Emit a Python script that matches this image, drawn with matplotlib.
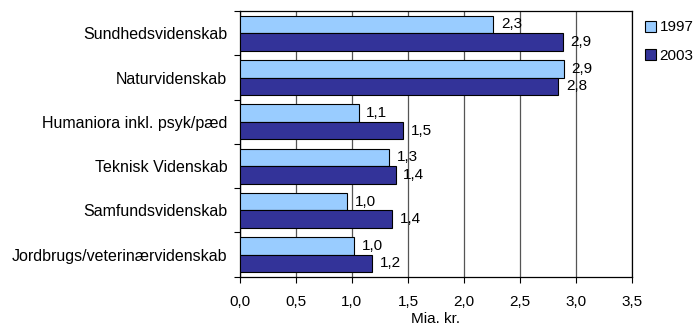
import matplotlib.pyplot as plt
import numpy as np
from matplotlib.patches import Patch

categories = [
    "Sundhedsvidenskab",
    "Naturvidenskab",
    "Humaniora inkl. psyk/pæd",
    "Teknisk Videnskab",
    "Samfundsvidenskab",
    "Jordbrugs/veterinærvidenskab",
]
values_1997 = [2.26, 2.89, 1.06, 1.33, 0.96, 1.02]
values_2003 = [2.88, 2.84, 1.46, 1.39, 1.36, 1.18]
series_labels = ["1997", "2003"]
xticks = [0.0, 0.5, 1.0, 1.5, 2.0, 2.5, 3.0, 3.5]

plt.rcParams["font.family"] = ["Liberation Sans", "DejaVu Sans"]

fig = plt.figure(figsize=(6.97, 3.26), dpi=100)
ax = fig.add_axes([0.344, 0.151, 0.563, 0.815])

y = np.arange(len(categories))
h = 0.395
c97, c03 = "#99CCFF", "#333399"
ax.barh(y - h / 2, values_1997, height=h, color=c97, edgecolor="black", linewidth=0.8, zorder=3)
ax.barh(y + h / 2, values_2003, height=h, color=c03, edgecolor="black", linewidth=0.8, zorder=3)

def fmt(v):
    return f"{v:.1f}".replace(".", ",")

for yi, v in zip(y - h / 2, values_1997):
    ax.annotate(fmt(v), (v, yi), xytext=(5.5, 0), textcoords="offset points",
                va="center", ha="left", fontsize=11, zorder=4)
for yi, v in zip(y + h / 2, values_2003):
    ax.annotate(fmt(v), (v, yi), xytext=(5.5, 0), textcoords="offset points",
                va="center", ha="left", fontsize=11, zorder=4)

ax.set_xlim(0, 3.5)
ax.set_ylim(len(categories) - 0.5, -0.5)
ax.set_xticks(xticks)
ax.set_xticklabels([fmt(t) for t in xticks], fontsize=11)
ax.set_yticks(y)
ax.set_yticklabels(categories, fontsize=11.5)
ax.tick_params(axis="y", length=0, pad=9)
ax.set_yticks(np.arange(len(categories) + 1) - 0.5, minor=True)
ax.tick_params(axis="y", which="minor", length=4, width=0.8)
ax.tick_params(axis="x", length=4, width=0.8, pad=9)
ax.grid(axis="x", color="#555555", linewidth=0.9, zorder=0)
for s in ax.spines.values():
    s.set_linewidth(0.9)
ax.set_xlabel("Mia. kr.", fontsize=11, labelpad=2)

handles = [Patch(facecolor=c97, edgecolor="black", linewidth=0.8),
           Patch(facecolor=c03, edgecolor="black", linewidth=0.8)]
fig.legend(handles, series_labels, loc="upper left", bbox_to_anchor=(0.91, 0.97),
           frameon=False, fontsize=11, handlelength=0.75, handleheight=0.75,
           handletextpad=0.2, labelspacing=0.95, borderpad=0.2)

fig.savefig("out.png", dpi=100)
